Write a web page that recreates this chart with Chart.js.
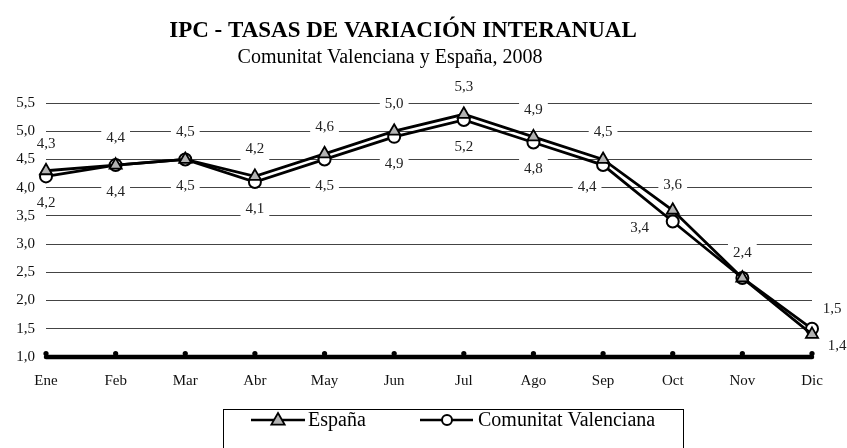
<!DOCTYPE html>
<html>
<head>
<meta charset="utf-8">
<script src="https://cdn.jsdelivr.net/npm/chart.js@4/dist/chart.umd.min.js"></script>
<style>
  html, body { margin: 0; padding: 0; background: #fff; }
  #wrap { width: 847px; height: 448px; position: relative; }
</style>
</head>
<body>
<div id="wrap"><canvas id="graph"></canvas></div>
<script>
const meses = ['Ene', 'Feb', 'Mar', 'Abr', 'May', 'Jun', 'Jul', 'Ago', 'Sep', 'Oct', 'Nov', 'Dic'];
const espana = [4.3, 4.4, 4.5, 4.2, 4.6, 5.0, 5.3, 4.9, 4.5, 3.6, 2.4, 1.4];
const valencia = [4.2, 4.4, 4.5, 4.1, 4.5, 4.9, 5.2, 4.8, 4.4, 3.4, 2.4, 1.5];
const yMin = 1.0;
const yMax = 5.5;
const yStep = 0.5;

const titulo = 'IPC - TASAS DE VARIACIÓN INTERANUAL';
const subtitulo = 'Comunitat Valenciana y España, 2008';

const serif = "'Liberation Serif', 'Times New Roman', serif";
Chart.defaults.font.family = serif;
Chart.defaults.color = '#111';

const coma = v => v.toFixed(1).replace('.', ',');

// label offsets (dx, dy) from the point; default above for España, below for CV
// null = label hidden (sits under the other series' label)
const desplaz = [
  { 9: [0, -25], 10: [0, -25], 11: [25, 12] },
  { 8: [-16, 22], 9: [-33, 7], 10: null, 11: [20, -20] }
];
const defecto = [[0, -27], [0, 27]];

function posEtiqueta(chart, di, i) {
  const pt = chart.getDatasetMeta(di).data[i];
  const d = desplaz[di][i] === undefined ? defecto[di] : desplaz[di][i];
  if (!d) return null;
  return { x: pt.x + d[0], y: pt.y + d[1] };
}

function triangulo(ctx, x, y, r) {
  ctx.beginPath();
  ctx.moveTo(x, y - r);
  ctx.lineTo(x + r * 0.95, y + r * 0.65);
  ctx.lineTo(x - r * 0.95, y + r * 0.65);
  ctx.closePath();
}

const extras = {
  id: 'extras',
  beforeDatasetsDraw(chart) {
    const ctx = chart.ctx;
    const area = chart.chartArea;
    ctx.save();
    ctx.font = '15px ' + serif;
    // white patches behind data labels (hide grid lines only)
    ctx.beginPath();
    ctx.rect(area.left, 0, chart.width - area.left, area.bottom - 3);
    ctx.clip();
    chart.data.datasets.forEach((ds, di) => {
      ds.data.forEach((v, i) => {
        const p = posEtiqueta(chart, di, i);
        if (!p) return;
        const w = ctx.measureText(coma(v)).width + 10;
        ctx.fillStyle = '#fff';
        ctx.fillRect(p.x - w / 2, p.y - 11, w, 22);
      });
    });
    ctx.restore();

    // thick x axis line with dots at categories
    ctx.save();
    const xs = chart.scales.x;
    const y0 = chart.scales.y.getPixelForValue(yMin);
    ctx.strokeStyle = '#000';
    ctx.lineWidth = 4.5;
    ctx.lineCap = 'round';
    ctx.beginPath();
    ctx.moveTo(area.left, y0);
    ctx.lineTo(area.right, y0);
    ctx.stroke();
    ctx.fillStyle = '#000';
    meses.forEach((m, i) => {
      ctx.beginPath();
      ctx.arc(xs.getPixelForValue(i), y0 - 3.5, 2.6, 0, Math.PI * 2);
      ctx.fill();
    });
    ctx.restore();
  },
  afterDatasetsDraw(chart) {
    const ctx = chart.ctx;
    ctx.save();
    ctx.font = '15px ' + serif;
    ctx.fillStyle = '#222';
    ctx.textAlign = 'center';
    ctx.textBaseline = 'middle';
    chart.data.datasets.forEach((ds, di) => {
      ds.data.forEach((v, i) => {
        const p = posEtiqueta(chart, di, i);
        if (p) ctx.fillText(coma(v), p.x, p.y);
      });
    });
    ctx.restore();
  },
  afterDraw(chart) {
    const ctx = chart.ctx;
    ctx.save();
    ctx.fillStyle = '#000';
    ctx.textAlign = 'center';
    ctx.textBaseline = 'alphabetic';
    ctx.font = 'bold 23px ' + serif;
    ctx.fillText(titulo, 403, 37);
    ctx.font = '20px ' + serif;
    ctx.fillText(subtitulo, 390, 63);

    // legend box
    ctx.strokeStyle = '#000';
    ctx.lineWidth = 1;
    ctx.strokeRect(223.5, 409.5, 460, 60);
    const ly = 420;
    ctx.lineWidth = 2.5;
    ctx.beginPath();
    ctx.moveTo(251, ly); ctx.lineTo(305, ly);
    ctx.moveTo(420, ly); ctx.lineTo(473, ly);
    ctx.stroke();
    triangulo(ctx, 278, ly, 7);
    ctx.fillStyle = '#b3b3b3';
    ctx.fill();
    ctx.lineWidth = 1.8;
    ctx.stroke();
    ctx.beginPath();
    ctx.arc(447, ly, 5, 0, Math.PI * 2);
    ctx.fillStyle = '#fff';
    ctx.fill();
    ctx.lineWidth = 2;
    ctx.stroke();
    ctx.fillStyle = '#000';
    ctx.textAlign = 'left';
    ctx.textBaseline = 'middle';
    ctx.font = '20px ' + serif;
    ctx.fillText(chart.data.datasets[0].label, 308, ly + 1);
    ctx.fillText(chart.data.datasets[1].label, 478, ly + 1);
    ctx.restore();
  }
};

const data = {
  labels: meses,
  datasets: [{
    label: 'España',
    data: espana,
    borderColor: '#000',
    borderWidth: 2.8,
    pointStyle: 'triangle',
    pointRadius: 7,
    pointBackgroundColor: '#b3b3b3',
    pointBorderColor: '#000',
    pointBorderWidth: 1.8,
    tension: 0
  }, {
    label: 'Comunitat Valenciana',
    data: valencia,
    borderColor: '#000',
    borderWidth: 2.8,
    pointStyle: 'circle',
    pointRadius: 6,
    pointBackgroundColor: '#fff',
    pointBorderColor: '#000',
    pointBorderWidth: 2,
    tension: 0
  }]
};

const config = {
  type: 'line',
  data: data,
  options: {
    responsive: false,
    animation: false,
    layout: { padding: { top: 103, left: 0, right: 35, bottom: 51 } },
    plugins: {
      legend: { display: false },
      title: { display: false },
      tooltip: { enabled: false }
    },
    scales: {
      x: {
        offset: false,
        grid: { display: false, drawTicks: false },
        border: { display: false },
        ticks: { padding: 15, font: { size: 15 }, color: '#111', maxRotation: 0 },
        afterFit: s => { s.height = 40; }
      },
      y: {
        min: yMin,
        max: yMax,
        grid: { color: '#444', lineWidth: 1, drawTicks: false },
        border: { display: false },
        ticks: { stepSize: yStep, padding: 11, font: { size: 15 }, color: '#111', callback: v => coma(v) },
        afterFit: s => { s.width = 46; }
      }
    }
  },
  plugins: [extras]
};

const canvas = document.getElementById('graph');
canvas.width = 847;
canvas.height = 448;
const graph = new Chart(canvas, config);
</script>
</body>
</html>
